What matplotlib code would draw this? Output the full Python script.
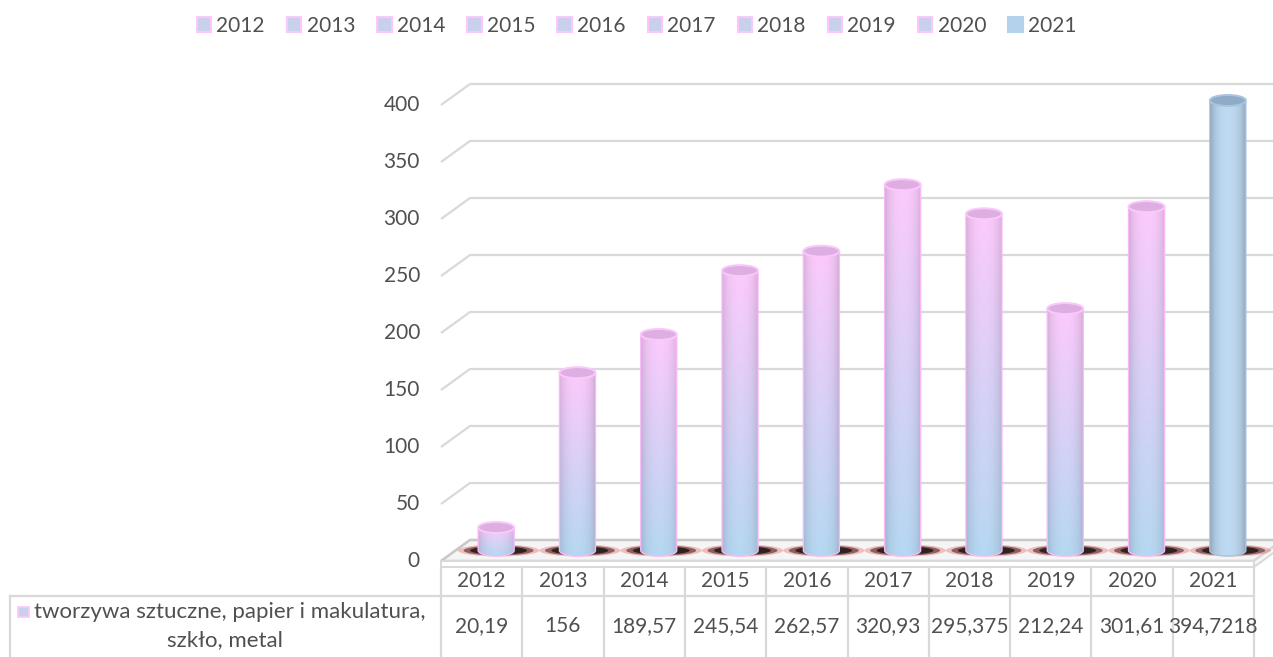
import numpy as np
import matplotlib
matplotlib.use('Agg')
import matplotlib.pyplot as plt
from matplotlib.patches import Ellipse, Polygon, Rectangle, PathPatch, Patch
from matplotlib.path import Path

# Data
years = ['2012', '2013', '2014', '2015', '2016', '2017', '2018', '2019', '2020', '2021']
values = [20.19, 156, 189.57, 245.54, 262.57, 320.93, 295.375, 212.24, 301.61, 394.7218]
value_labels = ['20,19', '156', '189,57', '245,54', '262,57', '320,93',
                '295,375', '212,24', '301,61', '394,7218']
yticks = [0, 50, 100, 150, 200, 250, 300, 350, 400]
row_label_1 = 'tworzywa sztuczne, papier i makulatura,'
row_label_2 = 'szkło, metal'

plt.rcParams['font.family'] = ['Lato', 'DejaVu Sans']
TXT = '#505050'
GRID = '#d9d9d9'
FS = 15

# pixel scale of the front plane (px per category / px per unit)
PX_X, PX_Y = 81.3, 1.14
DX, DY = 29 / PX_X, 21 / PX_Y      # depth offset of the back wall
SL = 6 / PX_Y                      # floor slab thickness

fig = plt.figure(figsize=(12.73, 6.57), dpi=100)
ax = fig.add_axes([0, 0, 1, 1])
ax.axis('off')

n = len(years)
x_left, x_right = -0.5, n - 0.5

# Back wall grid + y labels
for v in yticks:
    ax.plot([x_left, x_left + DX, x_right + DX], [v, v + DY, v + DY],
            color=GRID, lw=1.6, zorder=1, solid_capstyle='butt')
    ax.text(x_left - 21 / PX_X, v, str(v), ha='right', va='center',
            fontsize=FS, color=TXT)

# Floor
ax.add_patch(Polygon([(x_left, 0), (x_right, 0), (x_right + DX, DY), (x_left + DX, DY)],
                     closed=True, facecolor='#f5f5f5', edgecolor='#c8c8c8', lw=1.8, zorder=2))
ax.add_patch(Rectangle((x_left, -SL), n, SL, facecolor='white',
                       edgecolor=GRID, lw=1.4, zorder=2))
ax.add_patch(Polygon([(x_right, -SL), (x_right + DX, DY - SL), (x_right + DX, DY), (x_right, 0)],
                     closed=True, facecolor='#f7f7f7', edgecolor=GRID, lw=1.4, zorder=2))

# Cylinders
hw = 18 / PX_X
eh = 11 / PX_Y
pink = np.array([252, 202, 252]) / 255
blue = np.array([182, 216, 242]) / 255
solid_blue = np.array([190, 218, 242]) / 255


def body_image(top, bot, edge):
    ny, nx = 80, 60
    t = np.linspace(0, 1, ny)[:, None, None]
    col = (1 - t) * top + t * bot
    u = np.linspace(-1, 1, nx)
    shade = edge + (1 - edge) * np.sqrt(1 - u ** 2)
    return np.clip(col * shade[None, :, None], 0, 1)


for i, v in enumerate(values):
    xc = i + DX / 2
    yb = DY / 2
    yt = v + DY / 2
    last = i == n - 1

    # shadow on floor
    for w, h, c, a in [(1.0, 12, '#e03c3c', 0.3), (0.86, 10, '#2a0505', 0.5),
                       (0.7, 8, '#000000', 0.65)]:
        ax.add_patch(Ellipse((xc + 0.03, yb), w, h / PX_Y, facecolor=c, edgecolor='none',
                             alpha=a, zorder=3))

    theta = np.linspace(np.pi, 2 * np.pi, 50)
    arc = np.column_stack([xc + hw * np.cos(theta), yb + eh / 2 * np.sin(theta)])
    verts = np.vstack([[(xc - hw, yt)], arc, [(xc + hw, yt)], [(xc - hw, yt)]])
    rim = '#a9c4df' if last else '#f9b8f9'
    body = PathPatch(Path(verts, closed=True), facecolor='none', edgecolor=rim,
                     lw=1.0, zorder=5)
    ax.add_patch(body)
    if last:
        img = body_image(solid_blue, solid_blue, 0.7)
    else:
        img = body_image(pink, blue, 0.82)
    im = ax.imshow(img, extent=(xc - hw, xc + hw, yb - eh / 2, yt), aspect='auto',
                   interpolation='bilinear', zorder=4)
    im.set_clip_path(body)

    top_fc = '#8fabc8' if last else '#dcaee2'
    top_ec = '#a9c4df' if last else '#fcc8fc'
    ax.add_patch(Ellipse((xc, yt), 2 * hw, eh, facecolor=top_fc, edgecolor=top_ec,
                         lw=1.4, zorder=6))

# Data table
y_bottom = -96 / PX_Y
y_head = -(596 - 561) / PX_Y
x_rl = -0.5 - (441 - 10) / PX_X
for k in range(n + 1):
    ax.plot([x_left + k, x_left + k], [-SL, y_bottom], color=GRID, lw=1.6, zorder=2)
ax.plot([x_rl, x_right], [y_head, y_head], color=GRID, lw=1.6, zorder=2)
ax.plot([x_rl, x_rl], [y_head, y_bottom], color=GRID, lw=1.6, zorder=2)

for i, (yr, lab) in enumerate(zip(years, value_labels)):
    ax.text(i, -(581 - 561) / PX_Y, yr, ha='center', va='center', fontsize=FS, color=TXT)
    ax.text(i, -(626 - 561) / PX_Y, lab, ha='center', va='center', fontsize=FS, color=TXT)

ax.add_patch(Rectangle((-0.5 - (441 - 18) / PX_X, -(617 - 561) / PX_Y), 11 / PX_X, 10 / PX_Y,
                       facecolor='#c8d0ec', edgecolor='#fcc8fc', lw=1.2, zorder=3))
ax.text(-0.5 - (441 - 34) / PX_X, -(612 - 561) / PX_Y, row_label_1, ha='left', va='center',
        fontsize=FS + 1, color=TXT)
ax.text(-0.5 - (441 - 225) / PX_X, -(640 - 561) / PX_Y, row_label_2, ha='center', va='center',
        fontsize=FS + 1, color=TXT)

# Legend
handles = [Patch(facecolor='#c8d0ec', edgecolor='#fcc8fc', lw=1.5) for _ in years[:-1]]
handles.append(Patch(facecolor='#b4d2ec', edgecolor='#b4d2ec', lw=1.5))
fig.legend(handles, years, loc='upper center', bbox_to_anchor=(0.5, 0.995), ncol=n,
           frameon=False, fontsize=FS, handlelength=0.7, handleheight=0.7,
           handletextpad=0.25, columnspacing=1.05, labelcolor=TXT, borderaxespad=0.2)

ax.set_xlim(-0.5 - 441 / PX_X, -0.5 + (1273 - 441) / PX_X)
ax.set_ylim(-96 / PX_Y, 561 / PX_Y)

plt.savefig('out.png', dpi=100)
